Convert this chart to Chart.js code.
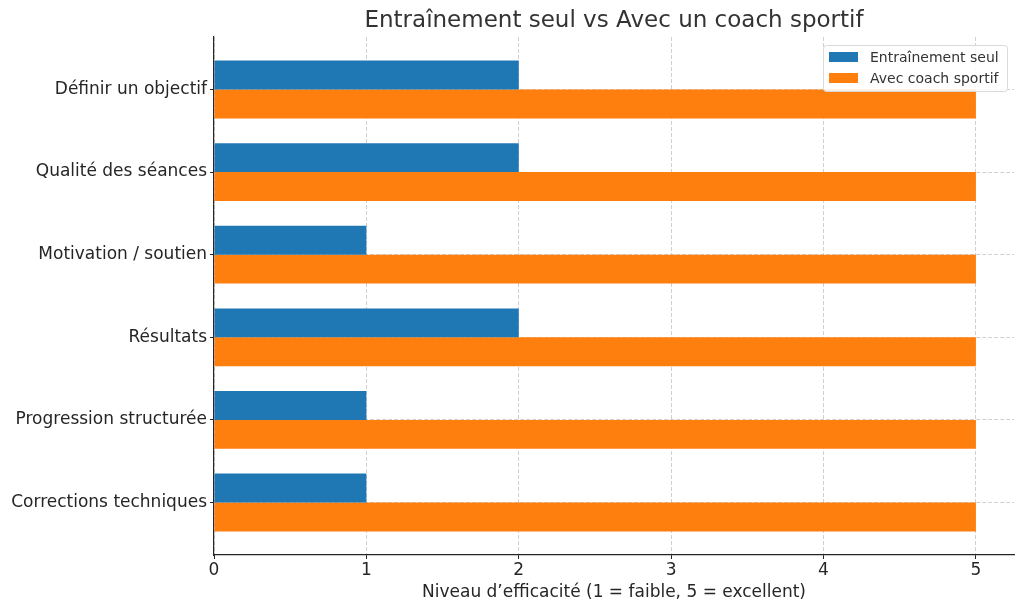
<!DOCTYPE html>
<html lang="fr">
<head>
<meta charset="UTF-8">
<title>Entraînement seul vs Avec un coach sportif</title>
<script src="https://cdn.jsdelivr.net/npm/chart.js"></script>
<style>
  html, body { margin: 0; padding: 0; background: #fff; }
  #wrap { width: 1024px; height: 611px; }
</style>
</head>
<body>
<div id="wrap"><canvas id="chart" width="1024" height="611"></canvas></div>
<script>
const categories = ['Définir un objectif', 'Qualité des séances', 'Motivation / soutien', 'Résultats', 'Progression structurée', 'Corrections techniques'];
const seulValues = [2, 2, 1, 2, 1, 1];
const coachValues = [5, 5, 5, 5, 5, 5];
const seriesNames = ['Entraînement seul', 'Avec coach sportif'];
const seriesColors = ['#1f77b4', '#ff7f0e'];
const xTicks = [0, 1, 2, 3, 4, 5];
const chartTitle = 'Entraînement seul vs Avec un coach sportif';
const xTitle = 'Niveau d’efficacité (1 = faible, 5 = excellent)';

const FONT = "'DejaVu Sans', sans-serif";
const GRID = 'rgba(176,176,176,0.6)';
const INK = '#262626';

// title + legend drawn like matplotlib (title over the axes, legend inside)
const decor = {
    id: 'decor',
    beforeDraw(chart) {
        const c = chart.ctx;
        c.save();
        c.fillStyle = '#ffffff';
        c.fillRect(0, 0, chart.width, chart.height);
        c.restore();
    },
    afterDraw(chart) {
        const c = chart.ctx;
        const area = chart.chartArea;
        c.save();
        c.fillStyle = '#333333';
        c.font = '23px ' + FONT;
        c.textAlign = 'center';
        c.textBaseline = 'middle';
        c.fillText(chartTitle, (area.left + area.right) / 2, 21);

        // legend box
        const bx = 823, by = 45, bw = 184, bh = 46;
        c.fillStyle = 'rgba(255,255,255,0.85)';
        c.strokeStyle = '#d9d9d9';
        c.lineWidth = 1;
        c.beginPath();
        c.roundRect(bx + 0.5, by + 0.5, bw, bh, 3);
        c.fill();
        c.stroke();
        c.font = '14px ' + FONT;
        c.textAlign = 'left';
        seriesNames.forEach((name, i) => {
            const cy = by + 12 + i * 21;
            c.fillStyle = seriesColors[i];
            c.fillRect(bx + 6, cy - 5, 29, 10);
            c.fillStyle = '#333333';
            c.fillText(name, bx + 47, cy + 1);
        });
        c.restore();
    }
};

const ctx = document.getElementById('chart').getContext('2d');
new Chart(ctx, {
    type: 'bar',
    data: {
        datasets: [
            {
                label: seriesNames[0],
                data: seulValues.map((v, i) => ({ x: v, y: i })),
                backgroundColor: seriesColors[0],
                borderWidth: 0
            },
            {
                label: seriesNames[1],
                data: coachValues.map((v, i) => ({ x: v, y: i })),
                backgroundColor: seriesColors[1],
                borderWidth: 0
            }
        ]
    },
    options: {
        indexAxis: 'y',
        responsive: false,
        animation: false,
        categoryPercentage: 0.7,
        barPercentage: 1.0,
        layout: { padding: { top: 37, right: 10, left: 0, bottom: 0 } },
        plugins: {
            legend: { display: false },
            title: { display: false },
            tooltip: { enabled: false }
        },
        scales: {
            x: {
                type: 'linear',
                min: 0,
                max: 5.25,
                afterBuildTicks: s => { s.ticks = xTicks.map(v => ({ value: v })); },
                afterFit: s => { s.height = 56; },
                ticks: {
                    color: INK,
                    font: { family: FONT, size: 17 },
                    padding: 1
                },
                grid: {
                    color: GRID,
                    tickBorderDash: [],
                    tickColor: INK,
                    tickLength: 4,
                    drawTicks: true
                },
                border: { display: true, color: INK, width: 1.2, dash: [4, 2] },
                title: {
                    display: true,
                    text: xTitle,
                    color: INK,
                    font: { family: FONT, size: 17 },
                    padding: { top: 0, bottom: 8 }
                }
            },
            y: {
                type: 'linear',
                reverse: true,
                offset: false,
                min: -0.635,
                max: 5.635,
                afterBuildTicks: s => { s.ticks = categories.map((_, i) => ({ value: i })); },
                afterFit: s => { s.width = 214; },
                ticks: {
                    color: INK,
                    font: { family: FONT, size: 17 },
                    padding: 3,
                    callback: v => categories[v]
                },
                grid: {
                    offset: false,
                    color: GRID,
                    tickBorderDash: [],
                    tickColor: INK,
                    tickLength: 4,
                    drawTicks: true
                },
                border: { display: true, color: INK, width: 1.2, dash: [4, 2] }
            }
        }
    },
    plugins: [decor]
});
</script>
</body>
</html>
